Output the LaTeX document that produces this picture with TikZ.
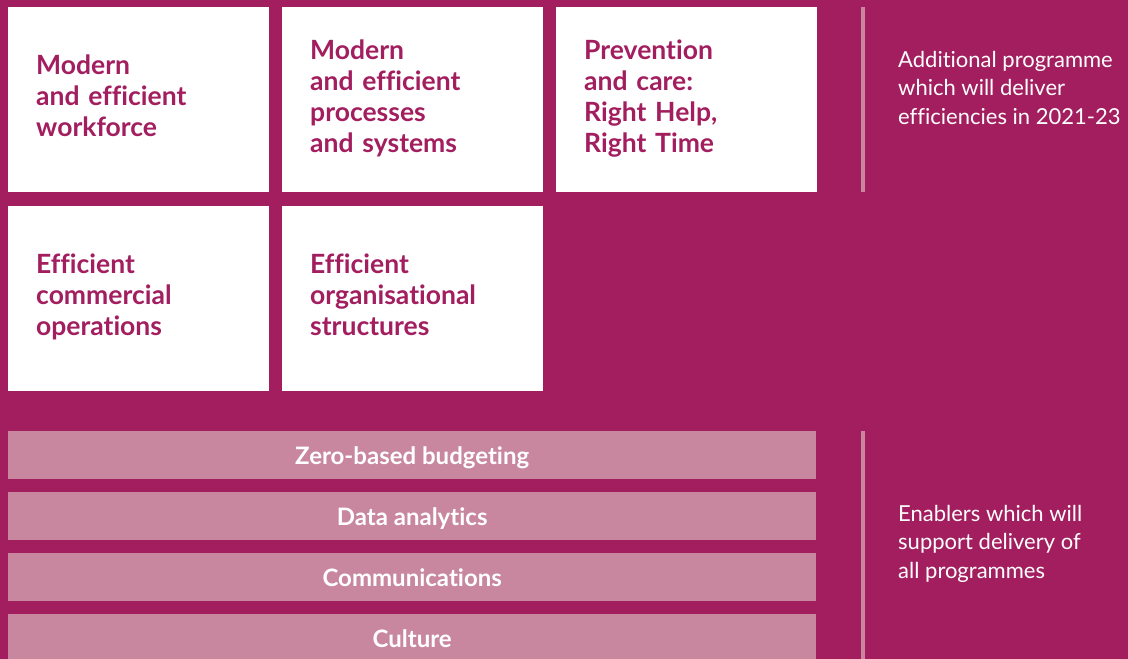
\documentclass[tikz,border=0pt]{standalone}
\usepackage{fontspec}
\setmainfont{Lato}[Ligatures={NoCommon, NoDiscretionary, NoContextual}]
\usetikzlibrary{positioning}
\definecolor{plum}{HTML}{A21E5F}
\definecolor{rose}{HTML}{C8879E}
\tikzset{
  prog/.style={rectangle, fill=white, anchor=north west, text=plum, align=left,
    text width=205pt, inner xsep=28pt, inner ysep=0, minimum height=185pt,
    font=\bfseries\fontsize{26.5}{31}\selectfont,
    execute at begin node=\strut, execute at end node=\strut},
  enabler/.style={rectangle, fill=rose, anchor=north west, text=white, text centered,
    minimum width=808pt, minimum height=47.5pt, inner sep=0,
    text height=20pt, text depth=0pt,
    font=\bfseries\fontsize{24}{28}\selectfont},
  note/.style={anchor=west, text=white, align=left, inner sep=0,
    font=\fontsize{22}{28.5}\selectfont,
    execute at begin node=\strut, execute at end node=\strut},
  rule/.style={draw=rose, line width=4.5pt}
}
\begin{document}
\begin{tikzpicture}[x=1pt, y=-1pt]
      \fill[plum](0, 0) rectangle (1128, 659);
      \useasboundingbox (0, 0) rectangle (1128, 659);

      % programmes
      \node[prog](p1) at (8, 7){Modern\\and efficient\\workforce};
      \node[prog](p2) at (282, 7){Modern\\and efficient\\processes\\and systems};
      \node[prog](p3) at (556, 7){Prevention\\and care:\\Right Help,\\Right Time};
      \node[prog](p4) at (8, 206){Efficient\\commercial\\operations};
      \node[prog](p5) at (282, 206){Efficient\\organisational\\structures};

      % enablers
      \node[enabler](e1) at (8, 431){Zero-based budgeting};
      \node[enabler](e2) at (8, 492){Data analytics};
      \node[enabler](e3) at (8, 553){Communications};
      \node[enabler](e4) at (8, 614){Culture};

      % side notes
      \coordinate (r1a) at (863, 7);
      \coordinate (r1b) at (863, 192);
      \coordinate (r2a) at (863, 431);
      \coordinate (r2b) at (863, 659);
      \draw[rule](r1a)--(r1b);
      \draw[rule](r2a)--(r2b);
      \node[note](n1) at (898, 92){Additional programme\\which will deliver\\efficiencies in 2021-23};
      \node[note](n2) at (898, 546){Enablers which will\\support delivery of\\all programmes};
    \end{tikzpicture}
\end{document}
